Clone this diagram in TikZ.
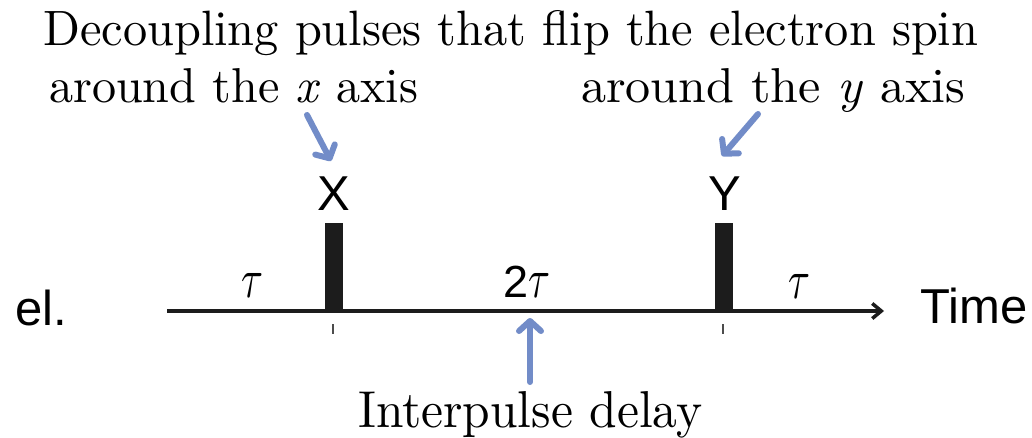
\documentclass[tikz,border=0pt]{standalone}
\usepackage{fontspec}
\usepackage{graphicx}
\newfontfamily\hv{Liberation Sans}
\usetikzlibrary{arrows.meta}
\definecolor{arrowblue}{RGB}{114,140,200}
\definecolor{pulseblack}{RGB}{28,28,28}
\newcommand{\bigtau}{\resizebox{22pt}{24pt}{$\tau$}}
\tikzset{
  txt/.style={inner sep=0pt, anchor=base west},
  sanslbl/.style={inner sep=0pt, anchor=base, font=\hv\fontsize{49}{55}\selectfont},
  taulbl/.style={inner sep=0pt, anchor=base},
  bluearrow/.style={draw=arrowblue, line width=6pt, line cap=round, line join=round,
    -{Straight Barb[length=10pt,width=22pt,line cap=round,line join=round]}},
  pulsebar/.style={fill=pulseblack, inner sep=0pt, minimum width=18pt, minimum height=87pt, anchor=south},
  tick/.style={draw=black!70, line width=2pt},
  axisline/.style={draw=pulseblack, line width=3.5pt, -{Straight Barb[length=9pt,width=15pt]}}
}
\begin{document}
\begin{tikzpicture}[x=1pt,y=-1pt]
\useasboundingbox (0,0) rectangle (1032,437);
% header text
\node[txt] (title) at (43,45) {\resizebox{935pt}{35pt}{Decoupling pulses that flip the electron spin}};
\node[txt] (aroundx) at (49,102) {\resizebox{369pt}{34pt}{around the \textit{x} axis}};
\node[txt] (aroundy) at (581,102) {\resizebox{384pt}{34pt}{around the \textit{y} axis}};
% pulses
\node[pulsebar] (px) at (334,310) {};
\node[pulsebar] (py) at (724,310) {};
\node[sanslbl] (lx) at (334,210) {X};
\node[sanslbl] (ly) at (725,210) {Y};
% time axis
\coordinate (axstart) at (167,311);
\coordinate (axend) at (884,311);
\draw[axisline] (axstart) -- (axend);
\node[sanslbl, anchor=base west] (el) at (15,325) {el.};
\node[sanslbl, anchor=base west] (time) at (920,323) {Time};
% delays
\node[taulbl] (t1) at (252,297) {\bigtau};
\node[inner sep=0pt, anchor=base west] (t2) at (503,297) {{\hv\fontsize{45}{50}\selectfont 2}\bigtau};
\node[taulbl] (t3) at (799,298) {\bigtau};
% ticks
\coordinate (tx1) at (333,324);
\coordinate (tx2) at (333,334);
\coordinate (ty1) at (723,324);
\coordinate (ty2) at (723,334);
\draw[tick] (tx1) -- (tx2);
\draw[tick] (ty1) -- (ty2);
% blue arrows
\coordinate (ax0) at (307,115);
\coordinate (ax1) at (331,161);
\draw[bluearrow] (ax0) -- (ax1);
\coordinate (ay0) at (758,114);
\coordinate (ay1) at (722,156);
\draw[bluearrow] (ay0) -- (ay1);
\coordinate (ad0) at (530,382);
\coordinate (ad1) at (530,318);
\draw[bluearrow] (ad0) -- (ad1);
% bottom label
\node[txt] (delay) at (358,427) {\resizebox{344pt}{36pt}{Interpulse delay}};
\end{tikzpicture}
\end{document}
